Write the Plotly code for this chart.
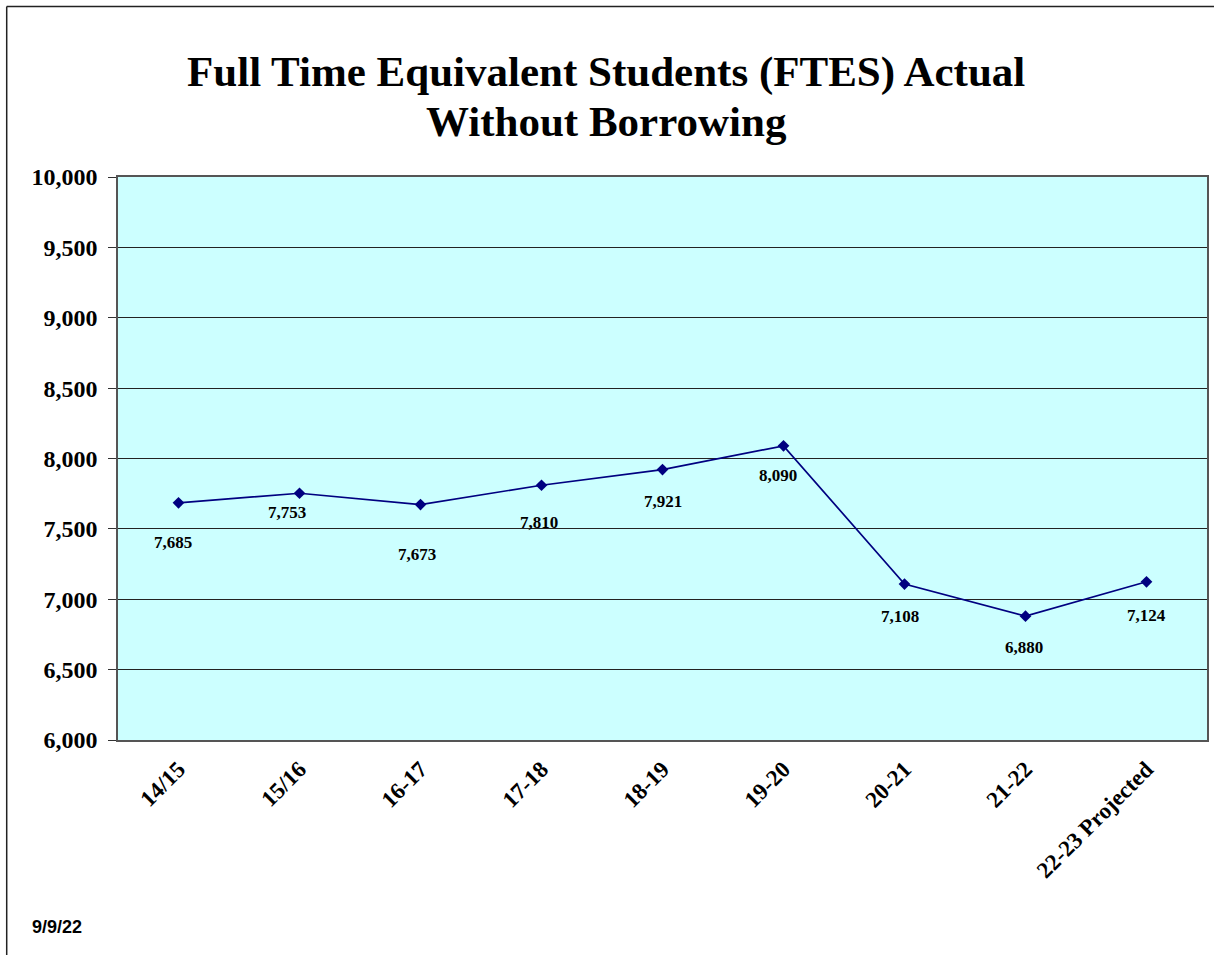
import plotly.graph_objects as go

categories = ["14/15", "15/16", "16-17", "17-18", "18-19", "19-20", "20-21", "21-22", "22-23 Projected"]
ftes = [7685, 7753, 7673, 7810, 7921, 8090, 7108, 6880, 7124]
value_labels = ["7,685", "7,753", "7,673", "7,810", "7,921", "8,090", "7,108", "6,880", "7,124"]
y_ticks = [6000, 6500, 7000, 7500, 8000, 8500, 9000, 9500, 10000]
title_lines = ["Full Time Equivalent Students (FTES) Actual", "Without Borrowing"]
date_text = "9/9/22"

# label placement offsets (styling, pixels)
label_dy = [-40, -19, -50, -37, -32, -30, -32, -31, -34]
label_dx = [-6, -13, -4, -3, 0, -6, -5, -2, 0]

serif = "Liberation Serif, Times New Roman, serif"
sans = "Liberation Sans, Arial, sans-serif"

W, H = 1215, 955
L, R, T, B = 118, 6, 177, 215
PW, PH = W - L - R, H - T - B


def px(xp):
    return (xp - L) / PW


def py(yp):
    return (H - B - yp) / PH


fig = go.Figure()
fig.add_trace(go.Scatter(
    x=categories, y=ftes, mode="lines+markers",
    line=dict(color="#000080", width=1.7),
    marker=dict(symbol="diamond", size=9, color="#000080"),
    hoverinfo="x+y", showlegend=False,
))

annotations = []
for c, v, t, dy, dx in zip(categories, ftes, value_labels, label_dy, label_dx):
    annotations.append(dict(
        x=c, y=v, xref="x", yref="y", text=f"<b>{t}</b>", showarrow=False,
        yshift=dy, xshift=dx, xanchor="center", yanchor="middle",
        font=dict(family=serif, size=17, color="black"),
    ))

for line, yc in zip(title_lines, [72, 122]):
    annotations.append(dict(
        x=px(607), y=py(yc), xref="paper", yref="paper",
        text=f"<b>{line}</b>", showarrow=False, xanchor="center", yanchor="middle",
        font=dict(family=serif, size=43, color="black"),
    ))

annotations.append(dict(
    x=px(30), y=py(927), xref="paper", yref="paper",
    text=f"<b>{date_text}</b>", showarrow=False, xanchor="left", yanchor="middle",
    font=dict(family=sans, size=18, color="black"),
))

fig.update_layout(
    width=W, height=H,
    margin=dict(l=L, r=R, t=T, b=B),
    paper_bgcolor="white",
    plot_bgcolor="#CCFFFF",
    annotations=annotations,
    shapes=[
        dict(type="line", xref="paper", yref="paper",
             x0=px(6.5), x1=px(1216), y0=py(6.5), y1=py(6.5),
             line=dict(color="#222222", width=1.5)),
        dict(type="line", xref="paper", yref="paper",
             x0=px(6.5), x1=px(6.5), y0=py(6.5), y1=py(960),
             line=dict(color="#222222", width=1.5)),
    ],
)

fig.update_xaxes(
    type="category", categoryorder="array", categoryarray=categories,
    tickvals=categories, ticktext=[f"<b>{c}</b>" for c in categories],
    tickangle=-45, showgrid=False, ticks="",
    ticklabelstandoff=5,
    tickfont=dict(family=serif, size=23, color="black"),
    showline=True, linecolor="#555555", linewidth=1.5, mirror=True,
    range=[-0.5, len(categories) - 0.5],
)
fig.update_yaxes(
    range=[6000, 10000], tickvals=y_ticks,
    ticktext=[f"<b>{v:,}</b>" for v in y_ticks],
    ticks="outside", ticklen=8, tickcolor="#333333",
    ticklabelstandoff=6,
    tickfont=dict(family=serif, size=24, color="black"),
    showgrid=True, gridcolor="#222222", gridwidth=1,
    showline=True, linecolor="#555555", linewidth=1.5, mirror=True,
    zeroline=False,
)

fig.write_html(
    "out.html",
    config={"displayModeBar": False},
    post_script="document.body.style.margin='0';document.body.style.overflow='hidden';",
)
